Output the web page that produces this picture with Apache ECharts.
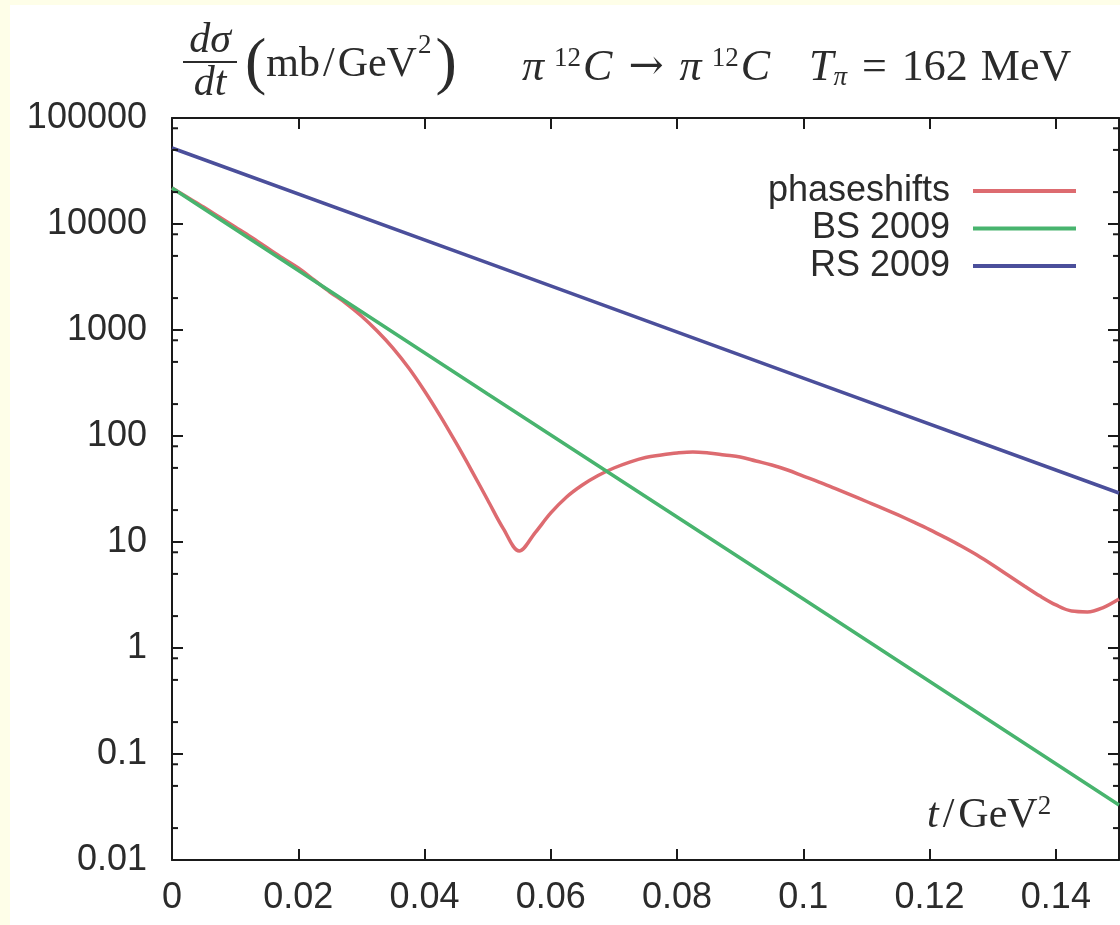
<!DOCTYPE html>
<html><head><meta charset="utf-8">
<script src="https://cdn.jsdelivr.net/npm/echarts@6/dist/echarts.min.js"></script>
<style>
html,body{margin:0;padding:0;background:#fefee8;width:1120px;height:925px;overflow:hidden}
#c{position:absolute;left:10px;top:5px;width:1110px;height:920px;background:#fff}
</style></head><body><div id="c"></div>
<script>
// ---- data ----
const seriesNames = ['phaseshifts', 'BS 2009', 'RS 2009'];
const xTickLabels = ['0', '0.02', '0.04', '0.06', '0.08', '0.1', '0.12', '0.14'];
const yTickLabels = ['0.01', '0.1', '1', '10', '100', '1000', '10000', '100000'];
const minorMantissas = [2, 5, 8];
const decades = [0.01, 0.1, 1, 10, 100, 1000, 10000];

const phaseT = [0, 0.0025, 0.005, 0.0075, 0.01, 0.0125, 0.015, 0.0175, 0.02, 0.0225,
  0.025, 0.0275, 0.03, 0.0325, 0.035, 0.0375, 0.04, 0.0425, 0.045, 0.0475,
  0.05, 0.0525, 0.055, 0.0575, 0.06, 0.0625, 0.065, 0.0675, 0.07, 0.0725,
  0.075, 0.0775, 0.08, 0.0825, 0.085, 0.0875, 0.09, 0.0925, 0.095, 0.0975,
  0.1, 0.1025, 0.105, 0.1075, 0.11, 0.1125, 0.115, 0.1175, 0.12, 0.1225,
  0.125, 0.1275, 0.13, 0.1325, 0.135, 0.1375, 0.14, 0.1425, 0.145, 0.1475, 0.15];
const phaseSigma = [21860, 17780, 14470, 11640, 9370, 7540, 6000, 4778, 3845, 2963,
  2283, 1797, 1356, 979, 676, 438, 266, 154, 85.9, 46.7,
  24.9, 13.3, 8.23, 12.2, 18.8, 26.6, 34.5, 42.4, 49.9, 56.8,
  62.7, 66.2, 69.1, 70.7, 69.1, 66.2, 63.4, 58.1, 53.3, 47.8,
  41.9, 36.8, 32.0, 27.8, 24.1, 20.9, 18.0, 15.4, 13.1, 11.0,
  9.17, 7.54, 6.07, 4.83, 3.85, 3.09, 2.55, 2.23, 2.19, 2.41, 2.90];

const bsT = [0, 0.05, 0.1, 0.15];
const bsSigma = [21900, 249, 2.9, 0.033];

const rsT = [0, 0.05, 0.1, 0.15];
const rsSigma = [52100, 4290, 352, 29];

const colors = ['#dd6b70', '#48b46e', '#4b4f9b'];

// ---- build ----
const zip = (a, b) => a.map((v, i) => [v, b[i]]);
const minorTickValues = [];
decades.forEach(d => minorMantissas.forEach(m => minorTickValues.push([0, m * d])));

const sans = 'Liberation Sans, Arial, Helvetica, sans-serif';
const serif = 'Liberation Serif, Times New Roman, serif';
const txt = '#2b2b2b';
const axisCol = '#1a1a1a';

const chart = echarts.init(document.getElementById('c'), null, {renderer: 'canvas'});

const lineSeries = (name, data, color, z) => ({
  name, type: 'line', data, showSymbol: false, symbol: 'none',
  smooth: name === 'phaseshifts' ? 0.35 : false,
  lineStyle: {color, width: 3.5}, itemStyle: {color}, z, silent: true,
  xAxisIndex: 0, yAxisIndex: 0
});

const xLbl = v => {
  const i = Math.round(v / 0.02);
  return xTickLabels[i] !== undefined ? xTickLabels[i] : '';
};
const yLbl = v => {
  const e = Math.round(Math.log10(v));
  return yTickLabels[e + 2] !== undefined ? yTickLabels[e + 2] : '';
};

const TF = 42;   // title font size
const MF = 44;   // main title font size
const SF = 27;   // superscript size

const option = {
  animation: false,
  backgroundColor: '#ffffff',
  grid: {left: 162, top: 113, right: 1, bottom: 65, containLabel: false},
  legend: {
    data: seriesNames,
    orient: 'vertical', right: 44, top: 168, align: 'right',
    itemWidth: 103, itemHeight: 4, itemGap: 1.5, padding: 0,
    icon: 'rect',
    textStyle: {fontFamily: sans, fontSize: 36, color: txt, lineHeight: 36, padding: [0, 18, 0, 0]},
    selectedMode: false
  },
  xAxis: [{
    type: 'value', min: 0, max: 0.15, interval: 0.02, position: 'bottom',
    axisLine: {show: true, onZero: false, lineStyle: {color: axisCol, width: 2}},
    axisTick: {show: true, inside: true, length: 11, lineStyle: {color: axisCol, width: 2}},
    axisLabel: {show: true, margin: 20, fontFamily: sans, fontSize: 36, color: txt, formatter: xLbl, showMaxLabel: false},
    splitLine: {show: false}
  }, {
    type: 'value', min: 0, max: 0.15, interval: 0.02, position: 'top',
    axisLine: {show: true, onZero: false, lineStyle: {color: axisCol, width: 2}},
    axisTick: {show: true, inside: true, length: 11, lineStyle: {color: axisCol, width: 2}},
    axisLabel: {show: false}, splitLine: {show: false}
  }],
  yAxis: [{
    type: 'log', logBase: 10, min: 0.01, max: 100000, splitNumber: 7, position: 'left',
    axisLine: {show: true, onZero: false, lineStyle: {color: axisCol, width: 2}},
    axisTick: {show: true, inside: true, length: 11, lineStyle: {color: axisCol, width: 2}},
    axisLabel: {show: true, margin: 25, fontFamily: sans, fontSize: 36, color: txt, formatter: yLbl},
    splitLine: {show: false}
  }, {
    type: 'log', logBase: 10, min: 0.01, max: 100000, splitNumber: 7, position: 'right',
    axisLine: {show: true, onZero: false, lineStyle: {color: axisCol, width: 2}},
    axisTick: {show: true, inside: true, length: 11, lineStyle: {color: axisCol, width: 2}},
    axisLabel: {show: false}, splitLine: {show: false}
  }],
  series: [
    lineSeries(seriesNames[0], zip(phaseT, phaseSigma), colors[0], 2),
    lineSeries(seriesNames[1], zip(bsT, bsSigma), colors[1], 3),
    lineSeries(seriesNames[2], zip(rsT, rsSigma), colors[2], 4),
    {
      name: 'minorTicks', type: 'custom', silent: true, clip: false, z: 5,
      xAxisIndex: 0, yAxisIndex: 0,
      data: minorTickValues,
      renderItem: (params, api) => {
        const v = api.value(1);
        const pL = api.coord([0, v]);
        const pR = api.coord([0.15, v]);
        const st = {stroke: axisCol, lineWidth: 2};
        return {type: 'group', children: [
          {type: 'line', shape: {x1: pL[0], y1: pL[1], x2: pL[0] + 6, y2: pL[1]}, style: st},
          {type: 'line', shape: {x1: pR[0], y1: pR[1], x2: pR[0] - 6, y2: pR[1]}, style: st}
        ]};
      }
    }
  ],
  graphic: [
    // fraction d sigma / dt
    {type: 'text', x: 200, y: 36, style: {text: 'dσ', fontFamily: serif, fontStyle: 'italic', fontSize: TF, fill: txt, align: 'center', verticalAlign: 'middle'}},
    {type: 'line', shape: {x1: 173, y1: 57, x2: 227, y2: 57}, style: {stroke: txt, lineWidth: 2}},
    {type: 'text', x: 200, y: 79, style: {text: 'dt', fontFamily: serif, fontStyle: 'italic', fontSize: TF, fill: txt, align: 'center', verticalAlign: 'middle'}},
    {type: 'text', x: 235, y: 60, style: {
      text: '{p|(}{n|mb}{sl|/}{n|GeV}{s|2}{p|)}', align: 'left', verticalAlign: 'middle', fill: txt,
      rich: {
        p: {fontFamily: serif, fontSize: 64, lineHeight: 66, fill: txt},
        n: {fontFamily: serif, fontSize: TF, lineHeight: 46, fill: txt},
        sl: {fontFamily: serif, fontSize: TF, lineHeight: 46, fill: txt, padding: [0, 3, 0, 3]},
        s: {fontFamily: serif, fontSize: SF, lineHeight: 28, verticalAlign: 'top', fill: txt, padding: [0, 4, 0, 1]}
      }
    }},
    {type: 'text', x: 512, y: 63, style: {
      text: '{i|π}{s|12}{i|C}{a|→}{i|π}{s|12}{i|C}{g| }{i|T}{b|π}{e|=}{n|162}{m|MeV}', align: 'left', verticalAlign: 'middle', fill: txt,
      rich: {
        i: {fontFamily: serif, fontStyle: 'italic', fontSize: MF, lineHeight: 46, fill: txt},
        n: {fontFamily: serif, fontSize: MF, lineHeight: 46, fill: txt},
        m: {fontFamily: serif, fontSize: MF, lineHeight: 46, fill: txt, padding: [0, 0, 0, 13]},
        a: {fontFamily: 'DejaVu Serif, serif', fontSize: 42, lineHeight: 46, fill: txt, padding: [0, 16, 0, 16]},
        e: {fontFamily: serif, fontSize: MF, lineHeight: 46, fill: txt, padding: [0, 15, 0, 15]},
        g: {fontFamily: serif, fontSize: MF, lineHeight: 46, fill: txt, padding: [0, 14, 0, 14]},
        s: {fontFamily: serif, fontSize: SF, lineHeight: 28, verticalAlign: 'top', fill: txt, padding: [0, 2, 0, 10]},
        b: {fontFamily: serif, fontStyle: 'italic', fontSize: SF, lineHeight: 26, verticalAlign: 'bottom', fill: txt}
      }
    }},
    {type: 'text', x: 917, y: 811, style: {
      text: '{i|t}{sl|/}{n|GeV}{s|2}', align: 'left', verticalAlign: 'middle', fill: txt,
      rich: {
        i: {fontFamily: serif, fontStyle: 'italic', fontSize: TF, lineHeight: 46, fill: txt},
        sl: {fontFamily: serif, fontSize: TF, lineHeight: 46, fill: txt, padding: [0, 4, 0, 4]},
        n: {fontFamily: serif, fontSize: TF, lineHeight: 46, fill: txt},
        s: {fontFamily: serif, fontSize: SF, lineHeight: 28, verticalAlign: 'top', fill: txt}
      }
    }}
  ]
};
chart.setOption(option);
</script></body></html>
